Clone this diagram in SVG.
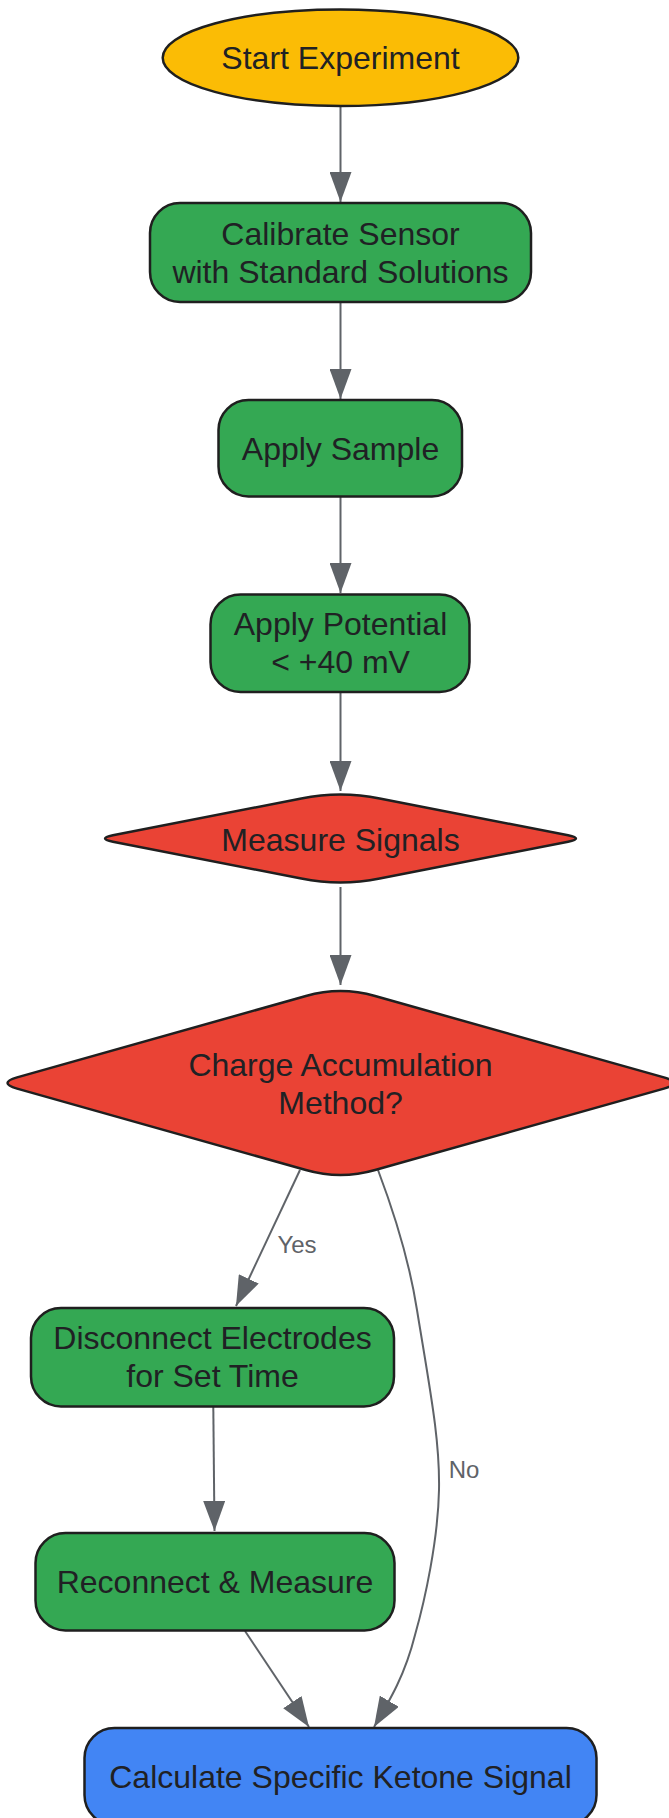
<svg xmlns="http://www.w3.org/2000/svg" width="669" height="1818" viewBox="0 0 669 1818">
<style>
.node{stroke:#1f1f1f;stroke-width:2.5}
.t{font-family:"Liberation Sans",Arial,sans-serif;font-size:32px;fill:#202124;text-anchor:middle}
.el{font-family:"Liberation Sans",Arial,sans-serif;font-size:24px;fill:#5f6368;text-anchor:middle}
.e{fill:none;stroke:#5f6368;stroke-width:2}
.y{fill:#FBBC05}.g{fill:#34A853}.r{fill:#EA4335}.b{fill:#4285F4}
</style>
<defs>
<marker id="ah" viewBox="0 0 30 22" refX="30" refY="11" markerWidth="30" markerHeight="22" markerUnits="userSpaceOnUse" orient="auto">
<path d="M0,0 L30,11 L0,22 Z" fill="#5f6368"/>
</marker>
</defs>
<rect width="669" height="1818" fill="#ffffff"/>
<g id="connectors">
<path class="e" d="M340.5,106 L340.5,202" marker-end="url(#ah)"/>
<path class="e" d="M340.5,302 L340.5,399" marker-end="url(#ah)"/>
<path class="e" d="M340.5,497 L340.5,593" marker-end="url(#ah)"/>
<path class="e" d="M340.5,692 L340.5,791" marker-end="url(#ah)"/>
<path class="e" d="M340.5,887 L340.5,985" marker-end="url(#ah)"/>
<path class="e" d="M300,1170 L236,1306" marker-end="url(#ah)"/>
<path class="e" d="M213.3,1407 L214.5,1531" marker-end="url(#ah)"/>
<path class="e" d="M245,1631 L309,1727" marker-end="url(#ah)"/>
<path class="e" d="M378,1170 C395,1215 410,1265 417,1310 C430,1390 440,1440 439,1490 C438,1540 425,1600 415,1635 C405,1675 390,1700 374,1727" marker-end="url(#ah)"/>
<text class="el" x="297" y="1253">Yes</text>
<text class="el" x="464" y="1478">No</text>
</g>
<g id="start">
<ellipse class="node y" cx="340.5" cy="57.7" rx="177.8" ry="48.3"/>
<text class="t" x="340.5" y="69.3">Start Experiment</text>
</g>
<g id="calibrate">
<rect class="node g" x="150" y="203" width="381" height="99" rx="30"/>
<text class="t" x="340.5" y="245">Calibrate Sensor</text>
<text class="t" x="340.5" y="283">with Standard Solutions</text>
</g>
<g id="applySample">
<rect class="node g" x="218.5" y="400" width="243.5" height="96.5" rx="30"/>
<text class="t" x="340.5" y="460">Apply Sample</text>
</g>
<g id="applyPotential">
<rect class="node g" x="210.5" y="594.5" width="259" height="97.5" rx="30"/>
<text class="t" x="340.5" y="635">Apply Potential</text>
<text class="t" x="340.5" y="673">&lt; +40 mV</text>
</g>
<g id="measure">
<path class="node r" d="M301.3,798.4 Q340.5,790.5 379.7,798.4 L568.1,835.3 Q583.8,838.5 568.1,841.7 L379.7,878.6 Q340.5,886.5 301.3,878.6 L112.9,841.7 Q97.2,838.5 112.9,835.3 Z"/>
<text class="t" x="340.5" y="850.5">Measure Signals</text>
</g>
<g id="charge">
<path class="node r" d="M305.9,996 Q340.5,986 375.1,996 L663.9,1077.4 Q683.1,1083 663.9,1088.6 L375.1,1170 Q340.5,1180 305.9,1170 L17.1,1088.6 Q-2.1,1083 17.1,1077.4 Z"/>
<text class="t" x="340.5" y="1076">Charge Accumulation</text>
<text class="t" x="340.5" y="1113.5">Method?</text>
</g>
<g id="disconnect">
<rect class="node g" x="31" y="1308" width="363" height="98.5" rx="30"/>
<text class="t" x="212.5" y="1349">Disconnect Electrodes</text>
<text class="t" x="212.5" y="1387">for Set Time</text>
</g>
<g id="reconnect">
<rect class="node g" x="35.5" y="1533" width="359" height="97.5" rx="30"/>
<text class="t" x="215" y="1593">Reconnect &amp; Measure</text>
</g>
<g id="calculate">
<rect class="node b" x="84.5" y="1728" width="512" height="97" rx="30"/>
<text class="t" x="340.5" y="1787.5">Calculate Specific Ketone Signal</text>
</g>
</svg>
